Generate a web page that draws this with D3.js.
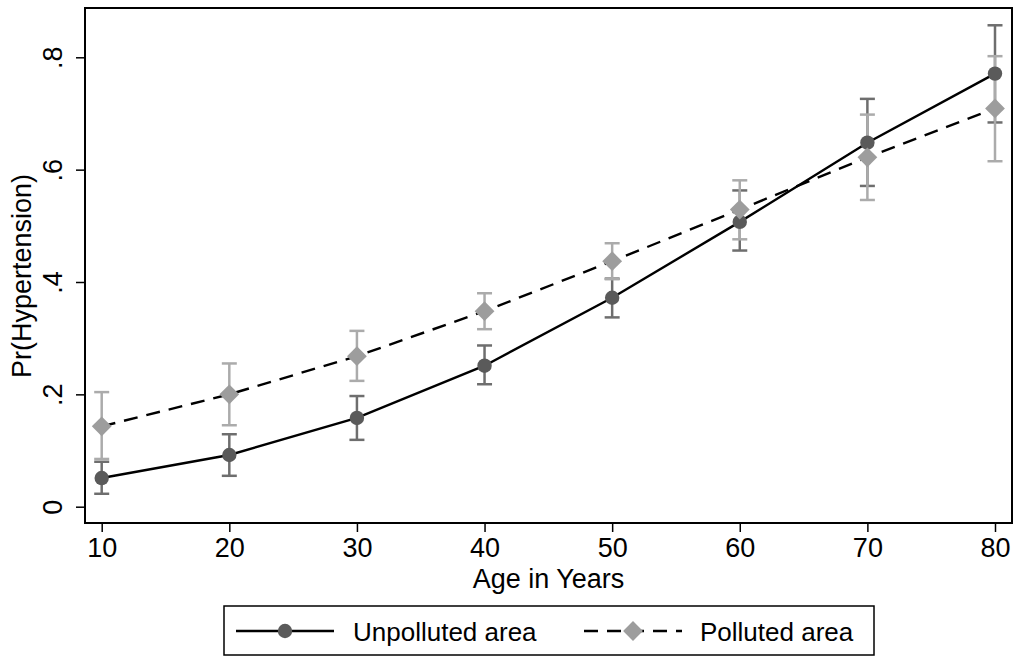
<!DOCTYPE html>
<html><head><meta charset="utf-8">
<script src="https://cdn.jsdelivr.net/npm/d3@7/dist/d3.min.js"></script>
<style>body{margin:0;background:#fff}svg{display:block}text{font-family:Arial,"Liberation Sans",sans-serif;fill:#000}</style>
</head><body><svg id="c" width="1016" height="659"></svg>
<script>
const ages = [10,20,30,40,50,60,70,80];
const unpolluted = [0.051,0.092,0.158,0.251,0.372,0.507,0.648,0.771];
const unpollutedLo = [0.023,0.055,0.119,0.218,0.337,0.456,0.571,0.684];
const unpollutedHi = [0.080,0.129,0.197,0.287,0.406,0.563,0.726,0.857];
const polluted = [0.143,0.200,0.268,0.348,0.437,0.529,0.622,0.709];
const pollutedLo = [0.085,0.145,0.224,0.316,0.405,0.476,0.546,0.615];
const pollutedHi = [0.204,0.255,0.313,0.380,0.469,0.581,0.698,0.802];
const xTicks = [10,20,30,40,50,60,70,80];
const yTicks = [0,0.2,0.4,0.6,0.8];
const yTickLabels = ["0",".2",".4",".6",".8"];
const seriesNames = ["Unpolluted area","Polluted area"];

const svg = d3.select("#c");
const L=85,R=1012,T=8,B=523;
const x = d3.scaleLinear().domain([10,80]).range([101.7,995]);
const y = d3.scaleLinear().domain([0,0.8]).range([506.7,57.3]);

const cUn = "#5a5a5a", cUnCI="#6e6e6e", cPo="#9d9d9d", cPoCI="#ababab";

// axes
const gx = svg.append("g").attr("transform",`translate(0,${B})`)
  .call(d3.axisBottom(x).tickValues(xTicks).tickSize(9).tickPadding(6).tickFormat(d3.format("d")));
gx.select(".domain").remove();
gx.selectAll("line").attr("stroke","#000").attr("stroke-width",1.5);
gx.selectAll("text").style("font-size","27px").attr("fill","#000");

const gy = svg.append("g").attr("transform",`translate(${L},0)`)
  .call(d3.axisLeft(y).tickValues(yTicks).tickSize(9).tickFormat((d,i)=>yTickLabels[i]));
gy.select(".domain").remove();
gy.selectAll("line").attr("stroke","#000").attr("stroke-width",1.5);
gy.selectAll("text").style("font-size","27px").attr("fill","#000")
  .attr("text-anchor","middle").attr("x",0).attr("dy",0)
  .attr("transform","translate(-23,0) rotate(-90)");

svg.append("rect").attr("x",L).attr("y",T).attr("width",R-L).attr("height",B-T)
  .attr("fill","none").attr("stroke","#000").attr("stroke-width",2);

// CIs
function ci(lo,hi,col){
  const g = svg.append("g").attr("stroke",col).attr("stroke-width",2.5);
  ages.forEach((a,i)=>{
    g.append("line").attr("x1",x(a)).attr("x2",x(a)).attr("y1",y(lo[i])).attr("y2",y(hi[i]));
    [lo[i],hi[i]].forEach(v=>g.append("line").attr("x1",x(a)-7.5).attr("x2",x(a)+7.5).attr("y1",y(v)).attr("y2",y(v)));
  });
}
ci(unpollutedLo,unpollutedHi,cUnCI);
ci(pollutedLo,pollutedHi,cPoCI);

const line = d3.line().x((d,i)=>x(ages[i])).y(d=>y(d));
svg.append("path").datum(unpolluted).attr("d",line).attr("fill","none").attr("stroke","#000").attr("stroke-width",2.4);
svg.append("path").datum(polluted).attr("d",line).attr("fill","none").attr("stroke","#000").attr("stroke-width",2.4).attr("stroke-dasharray","14,9");

const circ = d3.symbol().type(d3.symbolCircle).size(Math.PI*7.2*7.2);
const diam = d3.symbol().type(d3.symbolSquare).size(14*14);
svg.append("g").selectAll("path").data(unpolluted).join("path")
  .attr("d",circ).attr("fill",cUn).attr("transform",(d,i)=>`translate(${x(ages[i])},${y(d)})`);
svg.append("g").selectAll("path").data(polluted).join("path")
  .attr("d",diam).attr("fill",cPo).attr("transform",(d,i)=>`translate(${x(ages[i])},${y(d)}) rotate(45)`);

// titles
svg.append("text").attr("x",(L+R)/2).attr("y",588).attr("text-anchor","middle").style("font-size","27px").text("Age in Years");
svg.append("text").attr("transform","translate(31,276) rotate(-90)").attr("text-anchor","middle").style("font-size","27px").text("Pr(Hypertension)");

// legend
const lg = svg.append("g");
lg.append("rect").attr("x",224).attr("y",606).attr("width",650).attr("height",49).attr("fill","#fff").attr("stroke","#000").attr("stroke-width",1.5);
const ly = 631;
lg.append("line").attr("x1",236).attr("x2",334).attr("y1",ly).attr("y2",ly).attr("stroke","#000").attr("stroke-width",2.4);
lg.append("path").attr("d",circ).attr("fill",cUn).attr("transform",`translate(285,${ly})`);
lg.append("text").attr("x",353).attr("y",ly+9.5).style("font-size","26px").text(seriesNames[0]);
lg.append("line").attr("x1",584).attr("x2",682).attr("y1",ly).attr("y2",ly).attr("stroke","#000").attr("stroke-width",2.4).attr("stroke-dasharray","14,9");
lg.append("path").attr("d",diam).attr("fill",cPo).attr("transform",`translate(633,${ly}) rotate(45)`);
lg.append("text").attr("x",700).attr("y",ly+9.5).style("font-size","26px").text(seriesNames[1]);
</script></body></html>
